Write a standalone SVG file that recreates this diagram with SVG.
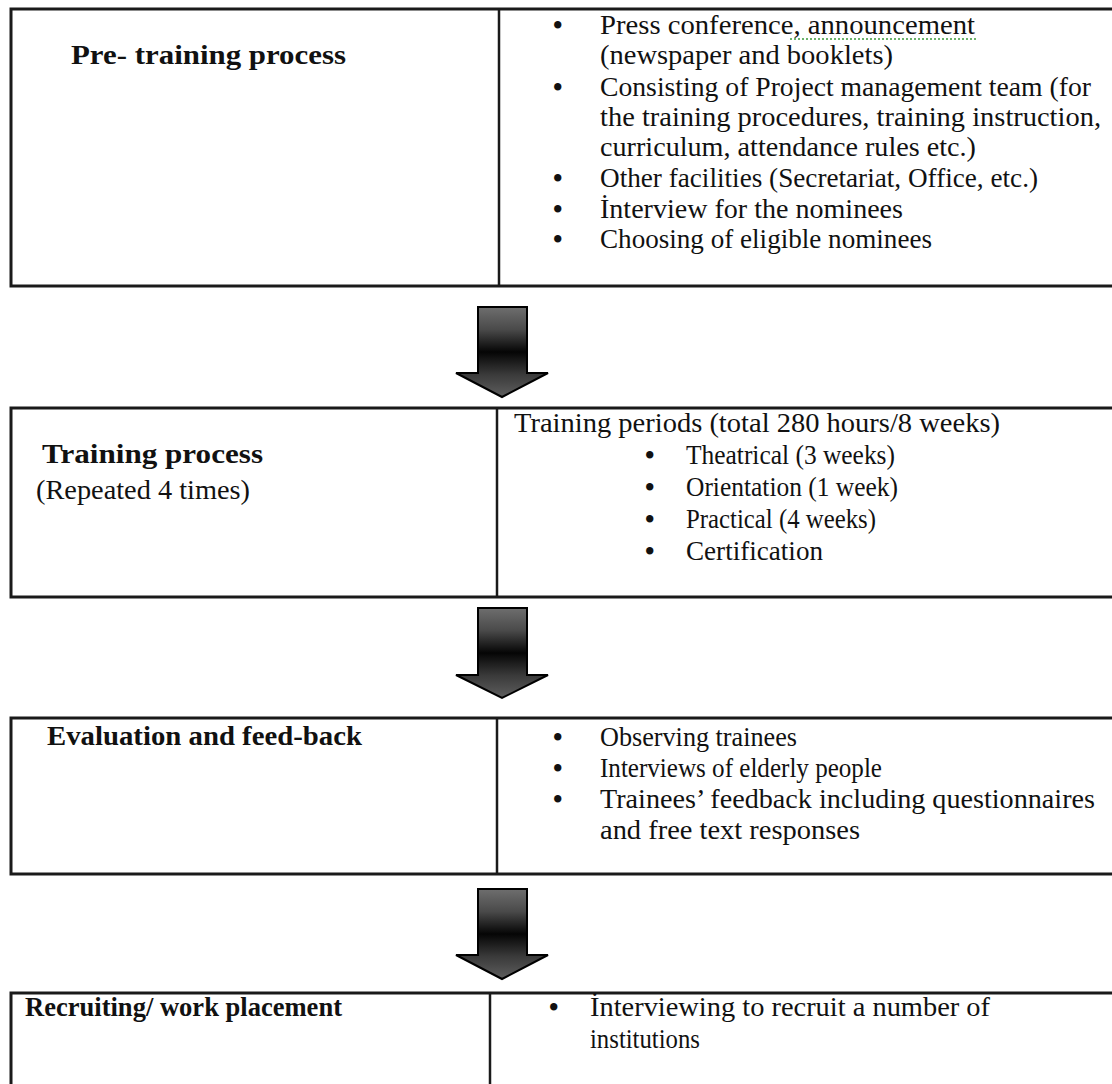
<svg xmlns="http://www.w3.org/2000/svg" width="1112" height="1084" viewBox="0 0 1112 1084">
<defs>
<style>
.box{fill:#fff;stroke:#1a1a1a;stroke-width:3}
.div{stroke:#1a1a1a;stroke-width:2.5}
.t{font-family:"Liberation Serif","Times New Roman",serif;font-size:27px;fill:#111}
.b{font-family:"Liberation Serif","Times New Roman",serif;font-size:27px;font-weight:bold;fill:#111}
.bul{font-family:"Liberation Serif","Times New Roman",serif;font-size:27px;font-weight:bold;fill:#111}
.arrow{fill:url(#ag);stroke:#000;stroke-width:2;stroke-linejoin:miter}
</style>
<linearGradient id="ag" x1="0" y1="0" x2="0" y2="1">
<stop offset="0" stop-color="#6e6e6e"/>
<stop offset="0.25" stop-color="#4a4a4a"/>
<stop offset="0.5" stop-color="#050505"/>
<stop offset="0.75" stop-color="#3a3a3a"/>
<stop offset="1" stop-color="#5e5e5e"/>
</linearGradient>
</defs>
<rect width="1112" height="1084" fill="#fff"/>

<g id="node-pretraining">
<rect class="box" x="11" y="9" width="1110" height="277"/>
<line class="div" x1="499" y1="9" x2="499" y2="286"/>
<text class="b" x="71" y="64" textLength="275" lengthAdjust="spacingAndGlyphs">Pre- training process</text>
<g class="t">
<text class="bul" x="553" y="34">•</text>
<text x="600" y="34" textLength="375" lengthAdjust="spacingAndGlyphs">Press conference,  announcement</text>
<line x1="790" y1="39" x2="976" y2="39" stroke="#3c9a3c" stroke-width="1.5" stroke-dasharray="2,2"/>
<text x="600" y="64" textLength="293" lengthAdjust="spacingAndGlyphs">(newspaper and booklets)</text>
<text class="bul" x="553" y="96">•</text>
<text x="600" y="96" textLength="491" lengthAdjust="spacingAndGlyphs">Consisting of Project management team (for</text>
<text x="600" y="126" textLength="501" lengthAdjust="spacingAndGlyphs">the training procedures, training instruction,</text>
<text x="600" y="156" textLength="376" lengthAdjust="spacingAndGlyphs">curriculum, attendance rules etc.)</text>
<text class="bul" x="553" y="187">•</text>
<text x="600" y="187" textLength="438" lengthAdjust="spacingAndGlyphs">Other facilities (Secretariat, Office, etc.)</text>
<text class="bul" x="553" y="218">•</text>
<text x="600" y="218" textLength="303" lengthAdjust="spacingAndGlyphs">İnterview for the nominees</text>
<text class="bul" x="553" y="248">•</text>
<text x="600" y="248" textLength="332" lengthAdjust="spacingAndGlyphs">Choosing of eligible nominees</text>
</g>
</g>

<g id="node-training">
<rect class="box" x="11" y="408" width="1110" height="189"/>
<line class="div" x1="497" y1="408" x2="497" y2="597"/>
<text class="b" x="42" y="463" textLength="221" lengthAdjust="spacingAndGlyphs">Training process</text>
<text class="t" x="36" y="499" textLength="214" lengthAdjust="spacingAndGlyphs">(Repeated 4 times)</text>
<g class="t">
<text x="514" y="432" textLength="486" lengthAdjust="spacingAndGlyphs">Training periods (total 280 hours/8 weeks)</text>
<text class="bul" x="645" y="464">•</text>
<text x="686" y="464" textLength="209" lengthAdjust="spacingAndGlyphs">Theatrical (3 weeks)</text>
<text class="bul" x="645" y="496">•</text>
<text x="686" y="496" textLength="212" lengthAdjust="spacingAndGlyphs">Orientation (1 week)</text>
<text class="bul" x="645" y="528">•</text>
<text x="686" y="528" textLength="190" lengthAdjust="spacingAndGlyphs">Practical (4 weeks)</text>
<text class="bul" x="645" y="560">•</text>
<text x="686" y="560" textLength="137" lengthAdjust="spacingAndGlyphs">Certification</text>
</g>
</g>

<g id="node-evaluation">
<rect class="box" x="11" y="718" width="1110" height="156"/>
<line class="div" x1="497" y1="718" x2="497" y2="874"/>
<text class="b" x="47" y="745" textLength="315" lengthAdjust="spacingAndGlyphs">Evaluation and feed-back</text>
<g class="t">
<text class="bul" x="553" y="746">•</text>
<text x="600" y="746" textLength="197" lengthAdjust="spacingAndGlyphs">Observing trainees</text>
<text class="bul" x="553" y="777">•</text>
<text x="600" y="777" textLength="282" lengthAdjust="spacingAndGlyphs">Interviews of elderly people</text>
<text class="bul" x="553" y="808">•</text>
<text x="600" y="808" textLength="495" lengthAdjust="spacingAndGlyphs">Trainees’ feedback including questionnaires</text>
<text x="600" y="839" textLength="260" lengthAdjust="spacingAndGlyphs">and free text responses</text>
</g>
</g>

<g id="node-recruiting">
<path class="box" d="M11 1095 V993 H1121" />
<line class="div" x1="490" y1="993" x2="490" y2="1090"/>
<text class="b" x="25" y="1016" textLength="317" lengthAdjust="spacingAndGlyphs">Recruiting/ work placement</text>
<g class="t">
<text class="bul" x="549" y="1016">•</text>
<text x="590" y="1016" textLength="400" lengthAdjust="spacingAndGlyphs">İnterviewing to recruit a number of</text>
<text x="590" y="1048" textLength="110" lengthAdjust="spacingAndGlyphs">institutions</text>
</g>
</g>

<g id="connectors">
<path class="arrow" d="M478 307 H527 V373 H548 L502 397 L456 373 H478 Z"/>
<path class="arrow" d="M478 608 H527 V675 H548 L502 698 L456 675 H478 Z"/>
<path class="arrow" d="M478 889 H527 V955 H548 L502 979 L456 955 H478 Z"/>
</g>
</svg>
